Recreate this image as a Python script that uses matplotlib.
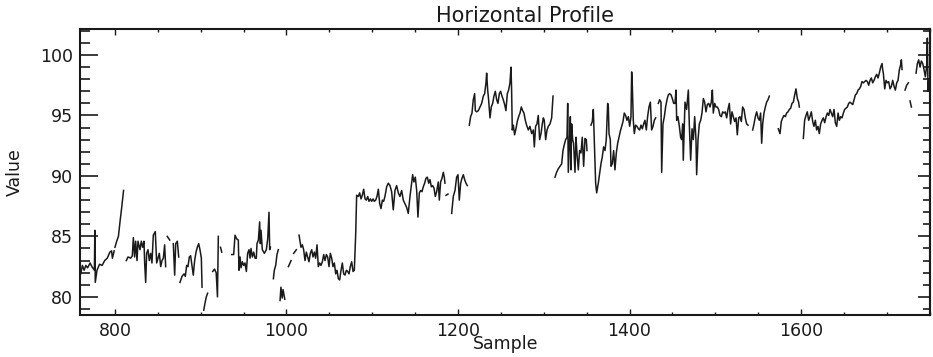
import numpy as np
import matplotlib.pyplot as plt
from matplotlib.ticker import MultipleLocator

nan = np.nan

# profile readings along the row; nan breaks the line where there is no data
sample = [
    760, 762, 764, 766, 768, 771, 773, 776, 776.5, 777, 779, 782, 785, 788, 791, 794, 796, 797, 799, nan,
    800, 802, 804, 806, 808, 810, nan,
    813.2, 815.2, 818.3, 820.2, 821.4, 822.9, 824.1, 825.7, 826.8, 829.2, 830.7, 832.3, 833.8, 834.6, 835.8,
    836.9, 838.5, 840.0, 841.6, 843.1, 844.7, 847.0, 848.6, 850.1, 851.7, 853.3, 854.8, 856.4, 857.9, 859.1, nan,
    861.0, 863.8, nan,
    868.0, 869.6, 870.8, 872.7, 874.3, nan,
    875.8, 878.2, 880.5, 882.0, 883.6, 885.1, 886.7, 888.2, 889.8, 891.3, 892.9, 894.5, 896.0, 897.6, 899.1,
    900.7, 901.5, nan,
    903.5, 905.0, 906.5, 908.0, nan,
    914.0, 916.0, 918.0, 919.5, 920.5, nan,
    923.0, 924.5, nan,
    936.1, 938.4, 940.0, 941.9, 943.8, 944.6, 945.8, 947.0, 948.5, 950.1, 951.6, 953.2, 954.7, 956.3, 957.5,
    958.6, 960.2, 961.7, 963.3, 964.8, 965.6, 967.2, 968.7, 969.5, 970.3, 971.8, 974.2, 976.5, 978.1, 979.6,
    980.4, 981.2, nan,
    984.7, 985.8, 987.4, 988.9, 990.5, nan,
    992.5, 993.5, 995.0, 996.0, 998.0, nan,
    1002.2, 1005.3, nan,
    1008.4, 1011.5, nan,
    1014.6, 1016.9, 1018.5, 1020.0, 1021.6, 1023.1, 1024.7, 1026.2, 1027.8, 1029.4, 1030.9, 1032.5, 1034.0,
    1035.6, 1037.1, 1038.7, 1040.2, 1041.8, 1043.4, 1044.9, 1046.5, 1048.0, 1049.6, 1051.1, 1052.7, 1054.2,
    1055.8, 1057.4, 1058.9, 1060.5, 1062.0, 1063.6, 1065.1, 1066.7, 1068.2, 1069.8, 1071.3, 1072.9, 1074.4,
    1076.0, 1077.6, 1079.1, 1080.7, 1081.8, 1083.8, 1085.3, 1086.9, 1088.4, 1090.0, 1091.6, 1093.1, 1094.7,
    1096.2, 1097.8, 1099.3, 1100.9, 1102.4, 1104.0, 1105.5, 1107.1, 1108.7, 1110.2, 1111.8, 1113.3, 1114.8,
    1116.8, 1118.7, 1120.7, 1122.6, 1124.5, 1126.5, 1128.4, 1130.4, 1132.3, 1134.3, 1136.2, 1138.2, 1140.1,
    1142.0, 1144.0, 1145.9, 1147.1, 1148.6, 1150.2, 1151.8, 1153.3, 1154.9, 1156.4, 1158.0, 1159.5, 1161.1,
    1162.6, 1164.2, 1165.8, 1167.3, 1168.9, 1170.4, 1172.0, 1173.5, 1175.1, 1177.0, 1178.2, 1179.7, 1181.3,
    1182.9, 1184.0, 1184.8, nan,
    1186.0, 1188.3, nan,
    1192.6, 1194.5, 1196.5, 1198.4, 1200.0, 1201.5, 1203.1, 1204.6, 1206.2, 1207.7, 1209.3, 1210.8, nan,
    1213.2, 1214.7, 1216.3, 1217.8, 1219.4, 1220.2, 1221.7, 1223.7, 1225.6, 1227.6, 1229.5, 1231.1, 1232.6,
    1233.4, 1234.6, 1235.7, 1237.3, 1238.8, 1240.4, 1241.9, 1243.5, 1245.1, 1246.6, 1248.2, 1249.7, 1251.3,
    1252.8, 1254.4, 1255.9, 1257.5, 1259.0, 1260.6, 1261.8, 1262.5, 1263.3, 1264.5, 1266.0, 1267.6, 1269.1,
    1270.7, 1272.3, 1273.8, 1275.4, 1276.9, 1278.5, 1280.0, 1282.0, 1283.9, 1285.9, 1287.8, 1289.0, 1290.5,
    1292.1, 1293.6, 1295.2, 1296.8, 1298.3, 1299.5, 1300.6, 1302.2, 1303.8, 1305.3, 1307.3, 1309.2, 1310.8, nan,
    1313.1, 1315.0, 1317.0, 1318.9, 1320.9, 1322.4, 1324.0, 1325.5, 1327.1, 1327.9, 1328.6, 1330.2, 1331.0,
    1331.7, 1332.5, 1333.7, 1334.8, 1336.4, 1337.6, 1338.7, 1340.3, 1341.8, 1343.4, 1344.9, 1346.5, 1348.1,
    1349.6, 1350.4, nan,
    1355.1, 1356.6, 1357.8, 1358.9, 1360.5, 1361.7, 1363.6, 1365.2, 1366.7, 1368.3, 1369.8, 1371.4, 1372.9,
    1374.5, 1375.3, 1376.1, 1377.6, 1378.4, 1379.9, 1381.5, 1383.0, 1384.6, 1386.2, 1387.7, 1389.3, 1390.8,
    1392.4, 1393.9, 1395.5, 1397.0, 1398.6, 1400.2, 1401.7, 1402.5, 1403.3, 1404.4, 1405.6, 1407.1, 1408.7,
    1410.3, 1411.8, 1413.4, 1414.9, 1416.5, 1418.0, 1419.6, 1421.1, 1422.7, 1424.3, 1425.8, 1427.4, 1428.9,
    1430.5, nan,
    1433.6, 1435.1, 1436.7, 1437.5, 1439.0, 1440.6, 1442.1, 1443.7, 1445.2, 1446.8, 1448.4, 1449.9, 1451.5,
    1453.0, 1454.2, 1455.0, 1456.5, 1458.1, 1459.6, 1460.8, 1462.0, 1462.7, 1464.7, 1466.6, 1468.6, 1469.7,
    1471.3, 1472.9, 1474.4, 1476.0, 1477.5, 1478.3, 1479.9, 1481.4, 1483.0, 1484.5, 1486.1, 1487.6, 1489.2,
    1490.7, 1492.3, 1493.8, 1495.4, 1496.6, 1497.7, 1499.3, 1500.8, 1502.4, 1503.9, 1505.5, 1507.1, 1508.6,
    1510.2, 1511.7, 1513.3, 1514.8, 1516.4, 1517.9, 1519.5, 1521.1, 1522.6, 1524.2, 1525.7, 1527.3, 1528.8,
    1530.4, 1531.9, 1533.5, 1535.0, 1536.6, 1538.2, nan,
    1543.6, 1545.2, 1546.7, 1548.3, 1549.8, 1551.4, 1552.9, 1554.1, 1555.3, 1556.8, 1558.4, 1559.9, 1561.5,
    1563.0, nan,
    1573.5, 1575.5, 1577.0, 1578.6, 1580.1, 1581.7, 1583.2, 1584.8, 1586.4, 1587.9, 1589.5, 1591.0, 1592.6,
    1594.1, 1595.7, 1597.2, 1598.0, nan,
    1602.7, 1604.2, 1605.8, 1607.3, 1608.9, 1610.4, 1612.0, 1613.6, 1615.1, 1616.7, 1618.2, 1619.8, 1621.3,
    1622.9, 1624.5, 1626.0, 1627.6, 1629.2, 1630.7, 1632.3, 1633.8, 1635.4, 1636.9, 1638.5, 1640.0, 1641.6,
    1643.2, 1644.7, 1646.3, 1647.8, 1649.4, 1650.9, 1652.5, 1654.0, 1655.6, 1657.1, 1658.7, 1660.3, 1661.8,
    1663.4, 1664.9, 1666.5, 1668.0, 1669.6, 1671.1, 1672.7, 1674.3, 1675.8, 1677.4, 1678.9, 1680.5, 1682.0,
    1683.6, 1685.1, 1686.7, 1688.2, 1689.8, 1691.3, 1692.9, 1694.5, 1695.2, 1696.0, 1697.6, 1699.1, 1700.7,
    1702.2, 1703.8, 1705.3, 1706.9, 1708.5, 1710.0, 1711.6, 1713.1, 1714.7, 1716.2, 1717.0, 1717.8, nan,
    1721.3, 1723.2, 1725.2, nan,
    1727.1, 1728.7, nan,
    1734.1, 1735.7, 1737.2, 1738.8, 1740.3, 1741.9, 1743.4, 1745.0, 1746.5, 1747.3, 1748.1, 1749.0,
]

value = [
    81.9, 82.6, 82.2, 82.6, 82.4, 82.8, 82.5, 82.2, 85.5, 81.2, 82.2, 82.7, 82.6, 83.0, 83.2, 83.7, 83.8, 83.2, 83.8, nan,
    84.1, 84.6, 85.0, 86.3, 87.5, 88.8, nan,
    83.0, 83.3, 83.2, 83.4, 84.9, 83.3, 84.6, 83.0, 84.6, 83.9, 84.6, 84.1, 84.6, 82.8, 81.2,
    83.6, 83.9, 83.0, 83.6, 82.8, 85.1, 85.4, 82.8, 83.2, 83.6, 82.5, 83.0, 83.2, 84.3, 82.5, nan,
    85.0, 84.7, nan,
    84.4, 81.8, 84.4, 84.6, 83.3, nan,
    81.2, 81.7, 81.9, 81.7, 82.6, 82.5, 83.3, 83.4, 82.6, 81.8, 83.0, 83.7, 84.1, 84.4, 83.9,
    83.2, 80.8, nan,
    78.9, 79.5, 80.0, 80.3, nan,
    82.1, 82.3, 82.0, 80.0, 85.0, nan,
    84.1, 83.7, nan,
    83.5, 83.5, 85.1, 84.8, 84.7, 82.2, 83.3, 82.4, 82.9, 82.6, 82.8, 82.1, 83.6, 83.9, 83.2,
    84.0, 83.3, 83.7, 83.2, 83.2, 84.4, 84.7, 86.2, 84.4, 85.5, 83.9, 83.6, 83.9, 84.8, 87.0,
    83.9, 84.1, nan,
    81.5, 82.2, 82.6, 83.5, 83.9, nan,
    79.7, 80.8, 79.9, 80.6, 79.8, nan,
    82.5, 83.0, nan,
    83.6, 83.9, nan,
    85.1, 84.1, 84.3, 83.9, 83.0, 83.7, 83.3, 82.9, 83.6, 83.9, 83.3, 83.7, 83.2,
    84.3, 82.5, 82.8, 82.6, 82.9, 83.5, 83.0, 83.5, 83.3, 82.5, 83.6, 83.2, 82.5,
    82.8, 81.9, 82.2, 81.5, 81.4, 82.2, 82.8, 81.9, 81.8, 82.2, 82.1, 81.9, 82.5,
    82.9, 82.1, 82.2, 85.2, 88.4, 88.3, 88.6, 88.1, 88.4, 88.9, 88.1, 88.0, 88.3,
    87.9, 88.1, 87.9, 88.1, 87.9, 88.0, 88.3, 88.9, 87.7, 87.3, 88.0, 87.9, 88.3,
    89.1, 89.4, 89.2, 88.7, 87.2, 88.8, 89.2, 88.6, 88.3, 88.8, 88.0, 87.7, 87.4,
    86.9, 88.3, 89.4, 90.1, 89.5, 89.9, 88.8, 86.6, 88.6, 88.8, 88.7, 89.1, 89.4,
    89.8, 89.9, 89.4, 89.7, 89.1, 89.2, 89.0, 88.3, 88.7, 89.5, 88.0, 89.5, 89.8,
    90.3, 89.9, 89.4, nan,
    88.4, 88.5, nan,
    86.9, 88.3, 88.8, 89.9, 90.1, 88.0, 89.4, 89.8, 90.1, 89.7, 89.4, 89.2, nan,
    94.2, 94.9, 95.2, 96.3, 96.8, 95.4, 95.3, 95.4, 95.7, 96.0, 96.6, 96.8, 97.7,
    98.5, 97.1, 96.3, 94.8, 95.7, 96.0, 96.6, 97.0, 96.3, 96.0, 96.8, 97.0, 96.6,
    96.3, 95.9, 95.4, 96.8, 97.1, 97.7, 99.0, 97.1, 93.8, 94.2, 93.4, 93.9, 94.5,
    94.9, 95.2, 95.7, 95.4, 95.2, 94.6, 94.2, 93.8, 94.1, 93.5, 93.8, 92.4, 94.1,
    94.3, 95.0, 93.0, 93.5, 94.3, 94.8, 94.6, 93.0, 93.8, 94.1, 94.3, 94.8, 96.6, nan,
    89.9, 90.3, 90.6, 90.8, 91.0, 92.1, 92.6, 93.0, 93.2, 96.0, 90.3, 93.2, 94.9,
    90.5, 94.3, 93.0, 92.7, 90.3, 93.2, 91.9, 90.5, 92.1, 91.9, 93.2, 90.8, 93.1,
    93.0, 92.1, nan,
    94.2, 94.5, 95.5, 93.0, 89.4, 88.6, 89.4, 90.2, 91.0, 91.6, 92.4, 92.1, 93.0,
    96.0, 95.7, 93.5, 93.0, 90.8, 91.0, 92.1, 90.5, 91.9, 92.7, 93.2, 93.7, 94.1,
    94.5, 95.2, 95.0, 94.6, 94.9, 94.1, 94.9, 98.6, 97.4, 94.6, 93.5, 94.2, 94.1,
    93.9, 93.8, 94.2, 93.9, 94.3, 94.6, 93.8, 94.9, 95.7, 96.1, 93.8, 94.1, 94.6,
    94.8, nan,
    96.0, 96.3, 96.1, 90.3, 94.3, 94.9, 95.7, 96.3, 96.7, 96.8, 96.7, 96.4, 96.0,
    96.0, 97.1, 94.6, 94.9, 94.1, 93.2, 93.0, 94.3, 91.3, 96.1, 95.5, 97.1, 94.3,
    91.3, 93.9, 93.0, 94.9, 93.0, 90.1, 93.0, 94.3, 94.6, 95.2, 96.4, 96.1, 95.3,
    95.9, 96.0, 95.7, 96.1, 97.1, 95.2, 96.0, 95.7, 95.7, 95.5, 95.0, 94.9, 95.3,
    95.2, 95.3, 94.8, 95.5, 96.0, 94.3, 95.3, 94.9, 94.5, 94.8, 93.4, 94.8, 94.9,
    94.5, 95.7, 95.5, 94.8, 94.3, 94.2, nan,
    93.8, 94.3, 94.9, 95.3, 94.8, 94.6, 95.2, 92.7, 94.3, 95.2, 95.7, 96.1, 96.3,
    96.6, nan,
    93.9, 93.5, 94.5, 94.8, 95.0, 94.9, 95.2, 95.3, 95.5, 95.6, 96.0, 96.1, 96.7,
    97.2, 96.4, 96.1, 95.7, nan,
    93.1, 94.6, 95.0, 95.3, 94.6, 94.9, 95.3, 94.5, 94.1, 94.6, 93.8, 94.1, 93.5,
    94.3, 94.6, 94.8, 94.4, 94.9, 95.2, 95.0, 95.5, 95.2, 94.9, 95.5, 94.4, 94.1,
    95.2, 94.6, 94.9, 94.8, 95.2, 95.5, 95.6, 95.7, 96.0, 96.1, 96.0, 95.9, 96.3,
    96.7, 96.8, 97.1, 97.2, 97.4, 97.8, 97.7, 97.8, 97.9, 97.8, 97.5, 97.9, 98.1,
    97.7, 97.9, 98.2, 98.4, 98.1, 98.5, 99.0, 99.3, 98.8, 98.5, 97.2, 97.9, 97.7,
    97.8, 97.2, 97.4, 97.9, 97.4, 97.1, 97.7, 97.9, 98.8, 99.2, 99.6, 98.8, nan,
    97.1, 97.5, 97.7, nan,
    96.2, 95.7, nan,
    98.5, 99.3, 99.6, 99.0, 99.5, 99.3, 98.8, 98.2, 99.1, 101.4, 97.0, 98.0,
]

sample = np.array(sample, dtype=float)
value = np.array(value, dtype=float)

ink = '#1a1a1a'
plt.rcParams['font.family'] = 'DejaVu Sans'

fig = plt.figure(figsize=(9.33, 3.57), dpi=100)
ax = fig.add_axes([80 / 933, 42 / 357, 850 / 933, 286 / 357])

ax.plot(sample, value, color=ink, lw=1.1)

ax.set_xlim(759.2, 1750.4)
ax.set_ylim(78.5, 102.15)

ax.xaxis.set_major_locator(MultipleLocator(200))
ax.xaxis.set_minor_locator(MultipleLocator(50))
ax.yaxis.set_major_locator(MultipleLocator(5))
ax.yaxis.set_minor_locator(MultipleLocator(1))

ax.tick_params(axis='x', which='both', direction='in', top=True, bottom=True,
               colors=ink, labelsize=12.5, pad=5)
ax.tick_params(axis='x', which='major', length=4, width=1)
ax.tick_params(axis='x', which='minor', length=2.5, width=1)
ax.tick_params(axis='y', which='both', direction='in', left=True, right=False,
               colors=ink, labelsize=12.5, pad=5)
ax.tick_params(axis='y', which='major', length=13, width=1.2)
ax.tick_params(axis='y', which='minor', length=7, width=1.2)

# shorter inward ticks on the right edge
right = ax.secondary_yaxis('right')
right.yaxis.set_major_locator(MultipleLocator(5))
right.yaxis.set_minor_locator(MultipleLocator(1))
right.tick_params(which='both', direction='in', labelright=False, colors=ink, width=1.2)
right.tick_params(which='major', length=9)
right.tick_params(which='minor', length=5)
right.spines['right'].set_linewidth(1.5)
right.spines['right'].set_color(ink)

for sp in ax.spines.values():
    sp.set_linewidth(1.5)
    sp.set_color(ink)

fig.text(525 / 933, 1 - 16 / 357, 'Horizontal Profile', ha='center', va='center',
         fontsize=15, color=ink)
fig.text(506 / 933, 1 - 344 / 357, 'Sample', ha='center', va='center',
         fontsize=12.5, color=ink)
fig.text(15 / 933, 1 - 172 / 357, 'Value', ha='center', va='center',
         rotation=90, fontsize=12.5, color=ink)

fig.savefig('out.png', dpi=100)
